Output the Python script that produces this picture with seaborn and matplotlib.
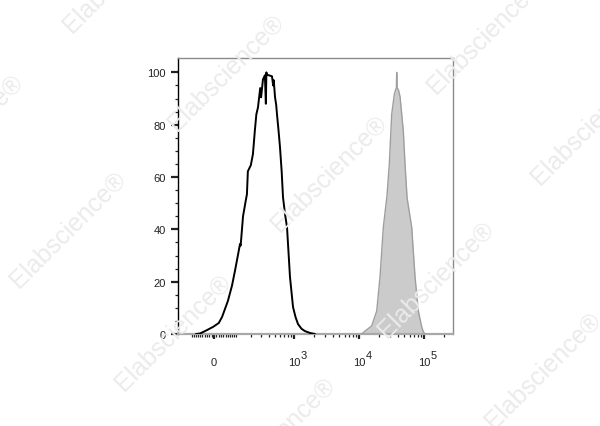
import numpy as np
import pandas as pd
import matplotlib
matplotlib.use("Agg")
import matplotlib.pyplot as plt
import seaborn as sns

# ---- data (fluorescence value, % of max) ----
black_x = [-80, -60, -38, -4, 20, 34, 60, 80, 95, 110, 124, 128, 143, 160, 170,
           177, 200, 218, 236, 250, 266, 290, 300, 322, 346, 359, 366, 373,
           402, 450, 470, 480, 503, 525, 540, 570, 602, 640, 671, 720, 775,
           862, 961, 1050, 1148, 1300, 1472, 1758, 2101]
black_y = [0, 0.2, 1.1, 2.7, 4.2, 6.5, 12.6, 18.5, 24, 29.5, 34.4, 33.8, 45,
           50.5, 53.4, 62.2, 64.5, 68.7, 78, 84, 86.6, 94, 90.5, 97.3, 98.9,
           88, 100, 99, 98.9, 98.5, 95, 97, 90.5, 87.5, 84, 78, 71.4, 62,
           52.3, 46, 40.8, 21.8, 10.3, 6.5, 3.8, 2.0, 1.1, 0.4, 0]

grey_x = [11000, 12380, 15680, 18750, 21060, 23690, 27000, 29290, 31880, 34980,
          36740, 37600, 38080, 38600, 40280, 42820, 48150, 51130, 55000, 64820,
          72890, 81900, 92430, 97810, 103800]
grey_y = [0, 1.1, 3.1, 8.8, 21.8, 40.8, 53, 64.9, 84, 91.6, 93.5, 94, 100, 94,
          93.5, 90.8, 77.5, 64.9, 52, 40.8, 21.8, 8.8, 2.7, 0.8, 0]

y_ticks = [0, 20, 40, 60, 80, 100]
x_major = [0, 1e3, 1e4, 1e5]
x_major_labels = ["0", "10", "10", "10"]
x_exponents = ["3", "4", "5"]
x_minor = ([-100] + [-v for v in range(10, 100, 10)] + list(range(10, 100, 10))
           + list(range(100, 1000, 100)) + list(range(2000, 10000, 1000))
           + list(range(20000, 100000, 10000)) + [200000])
watermark = "Elabscience®"
wm_centers = [(121, -25), (226, 73), (485, 36), (-35, 133), (68, 230),
              (329, 174), (589, 127), (173, 333), (436, 280), (543, 371),
              (277, 436)]

# ---- style ----
sns.set_style("ticks")
plt.rcParams["font.family"] = ["Liberation Sans", "DejaVu Sans"]

fig = plt.figure(figsize=(6.0, 4.27), dpi=100)
fig.patch.set_facecolor("white")

for cx, cy in wm_centers:
    fig.text(cx / 600, 1 - cy / 427, watermark, rotation=45,
             rotation_mode="anchor", ha="center", va="center",
             fontsize=18, color="#ebebeb", zorder=0)

ax = fig.add_axes([178 / 600, (427 - 335) / 427, (453 - 178) / 600,
                   (335 - 59) / 427])
ax.set_facecolor("none")

C = 117.0
ax.set_xscale("function",
              functions=(lambda x: np.arcsinh(np.asarray(x) / C),
                         lambda u: C * np.sinh(np.asarray(u))))

df_black = pd.DataFrame({"x": black_x, "y": black_y})
df_grey = pd.DataFrame({"x": grey_x, "y": grey_y})

ax.fill_between(df_grey["x"], df_grey["y"], 0, color="#cbcbcb", lw=0, zorder=2)
sns.lineplot(data=df_grey, x="x", y="y", sort=False, estimator=None,
             color="#9e9e9e", lw=1.0, ax=ax, zorder=3)
sns.lineplot(data=df_black, x="x", y="y", sort=False, estimator=None,
             color="black", lw=1.4, ax=ax, zorder=4)

ax.set_xlim(-193, 2.8e5)
ax.set_ylim(0, 105.5)

ax.set_yticks(y_ticks)
ax.set_yticklabels([str(v) for v in y_ticks])
ax.set_yticks(np.arange(5, 105, 5), minor=True)

ax.set_xticks(x_major)
ax.set_xticklabels(x_major_labels)
ax.set_xticks(x_minor, minor=True)

for v, e in zip(x_major[1:], x_exponents):
    ax.annotate(e, xy=(v, 0), xycoords=("data", "axes fraction"),
                xytext=(4.6, -17.3), textcoords="offset points",
                ha="left", va="baseline", fontsize=8, color="#222222")

ax.tick_params(axis="y", which="major", length=5, width=1.6, pad=4,
               labelsize=8, colors="#222222")
ax.tick_params(axis="y", which="minor", length=2.3, width=0.9, color="#222222")
ax.tick_params(axis="x", which="major", length=3.5, width=1.6, pad=13,
               labelsize=8, colors="#222222")
ax.tick_params(axis="x", which="minor", length=2.2, width=0.9, color="#222222")

ax.set_xlabel("")
ax.set_ylabel("")

for side in ["top", "right"]:
    ax.spines[side].set_color("#8a8a8a")
    ax.spines[side].set_linewidth(1.0)
ax.spines["left"].set_color("black")
ax.spines["left"].set_linewidth(1.0)
ax.spines["bottom"].set_color("#a8a8a8")
ax.spines["bottom"].set_linewidth(1.6)

fig.savefig("out.png", dpi=100)
